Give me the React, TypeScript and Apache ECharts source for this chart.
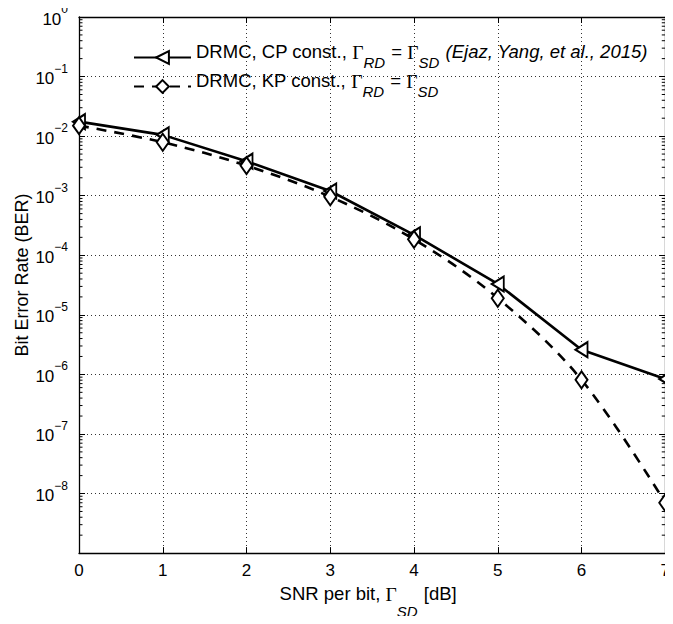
import React, { useEffect, useRef } from "react";
import * as echarts from "echarts";

const snr = [0, 1, 2, 3, 4, 5, 6, 7];
const berCP = [1.75e-2, 1.05e-2, 3.8e-3, 1.2e-3, 2.2e-4, 3.3e-5, 2.6e-6, 8.4e-7];
const berKP = [1.5e-2, 7.9e-3, 3.2e-3, 9.6e-4, 1.85e-4, 1.9e-5, 8.1e-7, 7.0e-9];
const xTicks = [0, 1, 2, 3, 4, 5, 6, 7];
const yMin = 1e-9;
const yMax = 1;
const seriesNames = ["cp", "kp"];
const legendTexts: Record<string, string> = {
  cp: "{a|DRMC, CP const., }{g|Γ}{sub|RD}{a| = }{g|Γ}{sub|SD}{it| (Ejaz, Yang, et al., 2015)}",
  kp: "{a|DRMC, KP const., }{g|Γ}{sub|RD}{a| = }{g|Γ}{sub|SD}",
};
const xTitle = "{a|SNR per bit, }{g|Γ}{sub|SD}{a| [dB]}";
const yTitle = "Bit Error Rate (BER)";

// minor tick positions of the log axis (2..9 x 10^k)
const minorTicks: number[] = [];
for (let k = -9; k < 0; k++) {
  for (let m = 2; m <= 9; m++) minorTicks.push(m * Math.pow(10, k));
}

const FONT = "Liberation Sans";
const SERIF = "Liberation Serif";

function richSet(subPad: number, fs: number) {
  return {
    a: { fontFamily: FONT, fontSize: fs, color: "#000", lineHeight: 22, verticalAlign: "top" },
    it: {
      fontFamily: FONT,
      fontSize: fs,
      fontStyle: "italic",
      color: "#000",
      lineHeight: 22,
      verticalAlign: "top",
    },
    g: { fontFamily: SERIF, fontSize: fs + 1, color: "#000", lineHeight: 22, verticalAlign: "top" },
    sub: {
      fontFamily: FONT,
      fontSize: 15,
      fontStyle: "italic",
      color: "#000",
      lineHeight: 18 + subPad,
      verticalAlign: "top",
      padding: [subPad, 1, 0, 0],
    },
  };
}

export default function App() {
  const ref = useRef<HTMLDivElement>(null);
  useEffect(() => {
    if (!ref.current) return;
    const chart = echarts.init(ref.current, undefined, { renderer: "svg" });
    const gridDot = { type: [1, 3] as any, color: "#333", width: 1 };
    const frameLine = { show: true, onZero: false, lineStyle: { color: "#000", width: 1.3 } };
    const majorTick = { show: true, inside: true, length: 6, lineStyle: { color: "#000" } };
    const option: any = {
      animation: false,
      backgroundColor: "#fff",
      textStyle: { fontFamily: FONT, color: "#000" },
      grid: { left: 79, right: 2, top: 17, bottom: 64, containLabel: false },
      legend: {
        data: seriesNames,
        orient: "vertical",
        left: 133,
        top: 42,
        padding: 0,
        itemWidth: 57,
        itemHeight: 16,
        itemGap: 1,
        formatter: (name: string) => legendTexts[name],
        textStyle: {
          fontFamily: FONT,
          fontSize: 18.5,
          color: "#000",
          rich: richSet(13, 18.5),
        },
      },
      graphic: [
        {
          type: "text",
          x: 21.5,
          y: 275,
          rotation: Math.PI / 2,
          silent: true,
          style: {
            text: yTitle,
            fontFamily: FONT,
            fontSize: 18,
            fill: "#000",
            textAlign: "center",
            textVerticalAlign: "middle",
          },
        },
      ],
      xAxis: [
        {
          type: "value",
          min: 0,
          max: 7,
          interval: 1,
          axisLine: frameLine,
          axisTick: majorTick,
          axisLabel: {
            fontFamily: FONT,
            fontSize: 17,
            color: "#000",
            margin: 9,
            formatter: (v: number) => (xTicks.includes(v) ? String(v) : ""),
          },
          splitLine: { show: true, lineStyle: gridDot },
          name: xTitle,
          nameLocation: "middle",
          nameGap: 20,
          nameTextStyle: {
            fontFamily: FONT,
            fontSize: 18.5,
            color: "#000",
            padding: [0, 8, 0, 0],
            rich: richSet(20, 18.5),
          },
        },
        {
          type: "value",
          position: "top",
          min: 0,
          max: 7,
          interval: 1,
          axisLine: frameLine,
          axisTick: majorTick,
          axisLabel: { show: false },
          splitLine: { show: false },
        },
      ],
      yAxis: [
        {
          type: "log",
          logBase: 10,
          min: yMin,
          max: yMax,
          axisLine: frameLine,
          axisTick: majorTick,
          axisLabel: {
            fontFamily: FONT,
            color: "#000",
            margin: 11,
            formatter: (v: number) => {
              const e = Math.round(Math.log10(v));
              if (e === -9) return "";
              const s = e < 0 ? "−" + Math.abs(e) : String(e);
              return `{b|10}{s|${s}}`;
            },
            rich: {
              b: { fontFamily: FONT, fontSize: 17, color: "#000", padding: [4, 0, 0, 0] },
              s: { fontFamily: FONT, fontSize: 12, color: "#000", padding: [0, 0, 16, 0] },
            },
          },
          splitLine: { show: true, lineStyle: gridDot },
        },
        {
          type: "log",
          logBase: 10,
          position: "right",
          min: yMin,
          max: yMax,
          axisLine: frameLine,
          axisTick: majorTick,
          axisLabel: { show: false },
          splitLine: { show: false },
        },
      ],
      series: [
        {
          type: "custom",
          name: "minor",
          silent: true,
          xAxisIndex: 0,
          yAxisIndex: 0,
          data: minorTicks.map((v) => [0, v]),
          encode: { x: 0, y: 1 },
          clip: false,
          z: 1,
          renderItem: (params: any, api: any) => {
            const y = api.coord([0, api.value(1)])[1];
            const cs = params.coordSys;
            return {
              type: "group",
              children: [
                {
                  type: "line",
                  shape: { x1: cs.x, y1: y, x2: cs.x + 3.5, y2: y },
                  style: { stroke: "#000", lineWidth: 1 },
                },
                {
                  type: "line",
                  shape: { x1: cs.x + cs.width - 3.5, y1: y, x2: cs.x + cs.width, y2: y },
                  style: { stroke: "#000", lineWidth: 1 },
                },
              ],
            };
          },
        },
        {
          type: "line",
          name: "cp",
          data: snr.map((x, i) => [x, berCP[i]]),
          symbol: "triangle",
          symbolSize: [15, 12],
          symbolRotate: 90,
          showAllSymbol: true,
          lineStyle: { color: "#000", width: 2.6, type: "solid" },
          itemStyle: { color: "#fff", borderColor: "#000", borderWidth: 2 },
          z: 3,
        },
        {
          type: "line",
          name: "kp",
          data: snr.map((x, i) => [x, berKP[i]]),
          symbol: "diamond",
          symbolSize: [12, 17],
          showAllSymbol: true,
          smooth: 0.35,
          lineStyle: { color: "#000", width: 2.6, type: [10, 8] },
          itemStyle: { color: "#fff", borderColor: "#000", borderWidth: 2 },
          z: 3,
        },
      ],
    };
    chart.setOption(option);
    return () => chart.dispose();
  }, []);
  return <div ref={ref} style={{ width: 673, height: 624, margin: -8 }} />;
}
